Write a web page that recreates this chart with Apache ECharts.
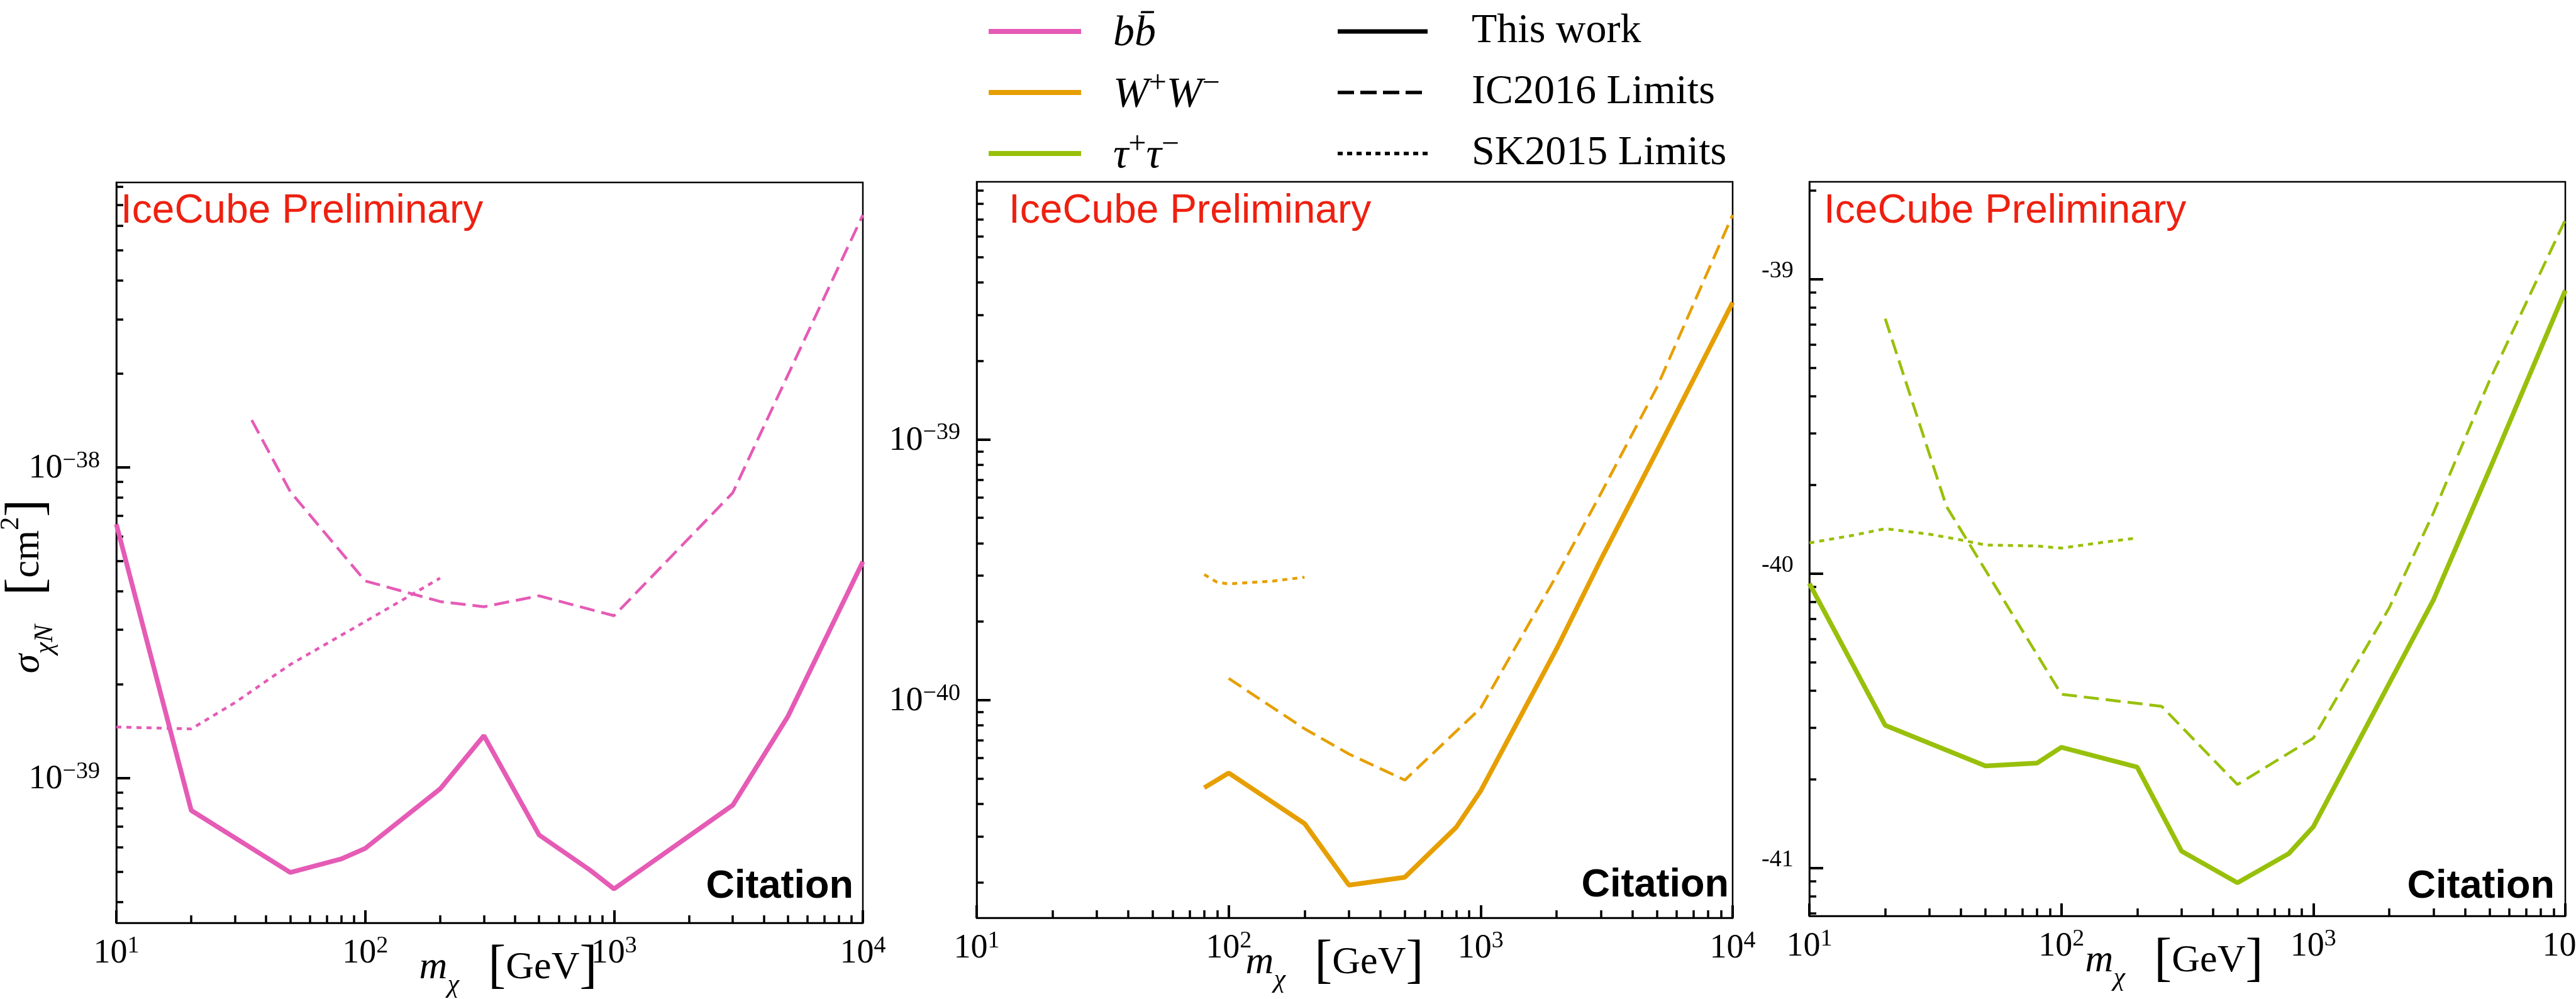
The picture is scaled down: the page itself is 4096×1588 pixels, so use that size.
<!DOCTYPE html>
<html>
<head>
<meta charset="utf-8">
<script src="https://cdn.jsdelivr.net/npm/echarts@6/dist/echarts.min.js"></script>
<style>
  html, body { margin: 0; padding: 0; background: #fff; }
  #main { width: 4096px; height: 1588px; }
</style>
</head>
<body>
<div id="main"></div>
<script>
// ---- data, cross sections in cm^2 ----
const massTicks = [10, 100, 1000, 10000]

// b bbar
const bbMassThis = [10, 20, 50, 80, 100, 200, 300, 500, 800, 1000, 3000, 5000, 10000]
const bbThis = [6.56e-39, 7.87e-40, 4.97e-40, 5.49e-40, 5.94e-40, 9.23e-40, 1.37e-39, 6.56e-40, 5.06e-40, 4.40e-40, 8.18e-40, 1.58e-39, 4.97e-39]
const bbMassIC = [35, 50, 100, 200, 300, 500, 1000, 3000, 10000]
const bbIC = [1.42e-38, 8.35e-39, 4.31e-39, 3.70e-39, 3.56e-39, 3.86e-39, 3.33e-39, 8.28e-39, 6.49e-38]
const bbMassSK = [10, 20, 30, 50, 100, 200]
const bbSK = [1.46e-39, 1.44e-39, 1.75e-39, 2.32e-39, 3.19e-39, 4.40e-39]
const bbRange = [3.42e-40, 8.26e-38]
const bbYTicks = [1e-39, 1e-38]

// W+ W-
const wwMassThis = [80, 100, 200, 300, 500, 800, 1000, 2000, 3000, 5000, 10000]
const wwThis = [4.61e-41, 5.25e-41, 3.36e-41, 1.95e-41, 2.09e-41, 3.25e-41, 4.48e-41, 1.57e-40, 3.46e-40, 9.0e-40, 3.35e-39]
const wwMassIC = [100, 200, 300, 500, 1000, 2000, 3000, 5000, 10000]
const wwIC = [1.21e-40, 7.76e-41, 6.21e-41, 4.93e-41, 9.31e-41, 3.0e-40, 6.2e-40, 1.58e-39, 7.26e-39]
const wwMassSK = [80, 90, 100, 150, 200]
const wwSK = [3.03e-40, 2.83e-40, 2.79e-40, 2.86e-40, 2.96e-40]
const wwRange = [1.46e-41, 9.73e-39]
const wwYTicks = [1e-40, 1e-39]

// tau+ tau-
const ttMassThis = [10, 20, 50, 80, 100, 200, 300, 500, 800, 1000, 3000, 5000, 10000]
const ttThis = [9.25e-41, 3.05e-41, 2.22e-41, 2.27e-41, 2.57e-41, 2.20e-41, 1.14e-41, 8.91e-42, 1.12e-41, 1.38e-41, 8.15e-41, 2.25e-40, 9.15e-40]
const ttMassIC = [20, 35, 100, 250, 500, 1000, 2000, 3000, 5000, 10000]
const ttIC = [7.34e-40, 1.69e-40, 3.89e-41, 3.54e-41, 1.92e-41, 2.76e-41, 7.64e-41, 1.61e-40, 4.52e-40, 1.59e-39]
const ttMassSK = [10, 15, 20, 30, 40, 50, 80, 100, 150, 200]
const ttSK = [1.27e-40, 1.35e-40, 1.42e-40, 1.36e-40, 1.30e-40, 1.25e-40, 1.24e-40, 1.22e-40, 1.28e-40, 1.32e-40]
const ttRange = [6.87e-42, 2.14e-39]
const ttYTicks = [1e-41, 1e-40, 1e-39]

const styleNames = ['This work', 'IC2016 Limits', 'SK2015 Limits']

// echarts rounds very small numbers on its axes, so the y axis runs in units of 1e-40 cm^2
const UNIT_EXP = -40
const toUnit = v => v / Math.pow(10, UNIT_EXP)

// ---- look ----
const SERIF = '"Liberation Serif", "DejaVu Serif", serif'
const SANS = '"Liberation Sans", Arial, sans-serif'
const PINK = '#e55bb5', ORANGE = '#e69f00', GREEN = '#98c00b'

const panels = [
  { left: 185, top: 290, width: 1187, height: 1177, color: PINK, range: bbRange, yTicks: bbYTicks, plain: false,
    lines: [[bbMassThis, bbThis], [bbMassIC, bbIC], [bbMassSK, bbSK]],
    tag: [192, 336], cite: [1357, 1410], title: [808, 1539] },
  { left: 1553, top: 289, width: 1202, height: 1170, color: ORANGE, range: wwRange, yTicks: wwYTicks, plain: false,
    lines: [[wwMassThis, wwThis], [wwMassIC, wwIC], [wwMassSK, wwSK]],
    tag: [1604, 336], cite: [2749, 1408], title: [2122, 1531] },
  { left: 2877, top: 289, width: 1202, height: 1167, color: GREEN, range: ttRange, yTicks: ttYTicks, plain: true,
    lines: [[ttMassThis, ttThis], [ttMassIC, ttIC], [ttMassSK, ttSK]],
    tag: [2900, 336], cite: [4062, 1410], title: [3457, 1528] }
]

const lineKinds = [
  { width: 7.5, type: 'solid' },
  { width: 4.5, type: [24, 11] },
  { width: 4.5, type: [8, 8] }
]

function minorTicks(lo, hi) {
  const out = []
  for (let e = Math.floor(Math.log10(lo)); e <= Math.ceil(Math.log10(hi)); e++) {
    for (let m = 2; m <= 9; m++) {
      const v = m * Math.pow(10, e)
      if (v > lo * 1.0001 && v < hi * 0.9999) out.push(v)
    }
  }
  return out
}

function expText(e) {
  return e < 0 ? '\u2212' + (-e) : String(e)
}
function massLabel(v) {
  return '{b|10}{s|' + expText(Math.round(Math.log10(v))) + '}'
}
function sigmaLabel(v) {
  return '{b|10}{s|' + expText(Math.round(Math.log10(v)) + UNIT_EXP) + '}'
}
// third panel: short labels sitting just above their tick
function plainLabel(v) {
  return '{t|-' + (-(Math.round(Math.log10(v)) + UNIT_EXP)) + '}{g| }'
}

const tickRich = {
  b: { fontFamily: SERIF, fontSize: 54, lineHeight: 58, verticalAlign: 'bottom', color: '#000' },
  s: { fontFamily: SERIF, fontSize: 38, lineHeight: 26, verticalAlign: 'top', color: '#000' },
  t: { fontFamily: SERIF, fontSize: 38, lineHeight: 38, verticalAlign: 'top', color: '#000' },
  g: { fontSize: 1, lineHeight: 64, color: 'rgba(0,0,0,0)' }
}

const titleRich = {
  i: { fontFamily: SERIF, fontStyle: 'italic', fontSize: 62, lineHeight: 96, fill: '#000' },
  sub: { fontFamily: SERIF, fontStyle: 'italic', fontSize: 42, lineHeight: 38, verticalAlign: 'bottom', fill: '#000' },
  sup: { fontFamily: SERIF, fontSize: 42, lineHeight: 42, verticalAlign: 'top', fill: '#000' },
  r: { fontFamily: SERIF, fontSize: 62, lineHeight: 96, fill: '#000' },
  br: { fontFamily: SERIF, fontSize: 84, lineHeight: 96, fill: '#000' }
}

const legendRich = {
  i: { fontFamily: SERIF, fontStyle: 'italic', fontSize: 68, lineHeight: 76, verticalAlign: 'bottom', fill: '#000' },
  s: { fontFamily: SERIF, fontSize: 50, lineHeight: 34, verticalAlign: 'top', fill: '#000' },
  r: { fontFamily: SERIF, fontSize: 66, lineHeight: 76, fill: '#000' }
}

const option = {
  animation: false,
  backgroundColor: '#fff',
  grid: [], xAxis: [], yAxis: [], series: [], graphic: []
}

panels.forEach((p, i) => {
  option.grid.push({
    left: p.left, top: p.top, width: p.width, height: p.height,
    show: true, borderColor: '#000', borderWidth: 2.5,
    containLabel: false, outerBoundsMode: 'none'
  })
  const mass = { type: 'log', logBase: 10, min: 10, max: 10000, gridIndex: i, position: 'bottom', splitLine: { show: false } }
  option.xAxis.push(Object.assign({}, mass, {
    axisLine: { show: true, onZero: false, lineStyle: { color: '#000', width: 2.5 } },
    axisTick: { show: true, inside: true, length: 20, lineStyle: { color: '#000', width: 4 }, customValues: massTicks },
    axisLabel: { show: true, customValues: massTicks, formatter: massLabel, margin: 18, rich: tickRich, fontSize: 54, color: '#000' }
  }))
  option.xAxis.push(Object.assign({}, mass, {
    axisLine: { show: false, onZero: false },
    axisTick: { show: true, inside: true, length: 12, lineStyle: { color: '#000', width: 3.5 }, customValues: minorTicks(10, 10000) },
    axisLabel: { show: false }
  }))

  const lo = toUnit(p.range[0]), hi = toUnit(p.range[1])
  const majors = p.yTicks.map(toUnit)
  const sig = { type: 'log', logBase: 10, min: lo, max: hi, gridIndex: i, position: 'left', splitLine: { show: false } }
  option.yAxis.push(Object.assign({}, sig, {
    axisLine: { show: true, onZero: false, lineStyle: { color: '#000', width: 2.5 } },
    axisTick: { show: true, inside: true, length: 22, lineStyle: { color: '#000', width: 4 }, customValues: majors },
    axisLabel: p.plain
      ? { show: true, customValues: majors, formatter: plainLabel, margin: 25, rich: tickRich, fontSize: 38, color: '#000' }
      : { show: true, customValues: majors, formatter: sigmaLabel, margin: 26, rich: tickRich, fontSize: 54, color: '#000' }
  }))
  option.yAxis.push(Object.assign({}, sig, {
    axisLine: { show: false, onZero: false },
    axisTick: { show: true, inside: true, length: 11, lineStyle: { color: '#000', width: 3.5 }, customValues: minorTicks(lo, hi) },
    axisLabel: { show: false }
  }))

  p.lines.forEach((ln, k) => {
    option.series.push({
      type: 'line', name: styleNames[k],
      xAxisIndex: 2 * i, yAxisIndex: 2 * i,
      data: ln[0].map((m, j) => [m, toUnit(ln[1][j])]),
      symbol: 'none', showSymbol: false, silent: true, clip: true,
      lineStyle: { color: p.color, width: lineKinds[k].width, type: lineKinds[k].type }
    })
  })

  // in-panel texts
  option.graphic.push({
    type: 'text', x: p.tag[0], y: p.tag[1], z: 10,
    style: { text: 'IceCube Preliminary', fill: '#ee2010', fontFamily: SANS, fontSize: 64,
      align: 'left', textAlign: 'left', verticalAlign: 'middle', textVerticalAlign: 'middle' }
  })
  option.graphic.push({
    type: 'text', x: p.cite[0], y: p.cite[1], z: 10,
    style: { text: 'Citation', fill: '#000', fontFamily: SANS, fontWeight: 'bold', fontSize: 63,
      align: 'right', textAlign: 'right', verticalAlign: 'middle', textVerticalAlign: 'middle' }
  })
  option.graphic.push({
    type: 'text', x: p.title[0], y: p.title[1], z: 10,
    style: { text: '{i|m}{sub|χ}{r|\u2002 }{br|[}{r|GeV}{br|]}', rich: titleRich,
      align: 'center', textAlign: 'center', verticalAlign: 'middle', textVerticalAlign: 'middle' }
  })
})

// y-axis title on the first panel
option.graphic.push({
  type: 'text', x: 45, y: 932, rotation: Math.PI / 2, z: 10,
  style: { text: '{i|σ}{sub|χN}{r|\u2002 }{br|[}{r|cm}{sup|2}{br|]}', rich: titleRich,
    align: 'center', textAlign: 'center', verticalAlign: 'middle', textVerticalAlign: 'middle' }
})

// legend (two columns: channel colours, line styles)
const legendRows = [50, 147, 244]
const channelText = ['{i|b}{i|b\u0304}', '{i|W}{s|+}{i|W}{s|\u2212}', '{i|τ}{s|+}{i|τ}{s|\u2212}']
const channelColors = [PINK, ORANGE, GREEN]
const styleDash = [null, [26, 10], [8, 7]]
legendRows.forEach((y, r) => {
  option.graphic.push({
    type: 'line', z: 10, shape: { x1: 1572, y1: y, x2: 1719, y2: y },
    style: { stroke: channelColors[r], lineWidth: 8 }
  })
  option.graphic.push({
    type: 'text', x: 1770, y: y, z: 10,
    style: { text: channelText[r], rich: legendRich, align: 'left', textAlign: 'left', verticalAlign: 'middle', textVerticalAlign: 'middle' }
  })
  option.graphic.push({
    type: 'line', z: 10, shape: { x1: 2127, y1: y, x2: 2270, y2: y },
    style: { stroke: '#000', lineWidth: r === 0 ? 7 : 5.5, lineDash: styleDash[r] }
  })
  option.graphic.push({
    type: 'text', x: 2340, y: y, z: 10,
    style: { text: '{r|' + styleNames[r] + '}', rich: legendRich, align: 'left', textAlign: 'left', verticalAlign: 'middle', textVerticalAlign: 'middle' }
  })
})

const chart = echarts.init(document.getElementById('main'))
chart.setOption(option)
</script>
</body>
</html>
